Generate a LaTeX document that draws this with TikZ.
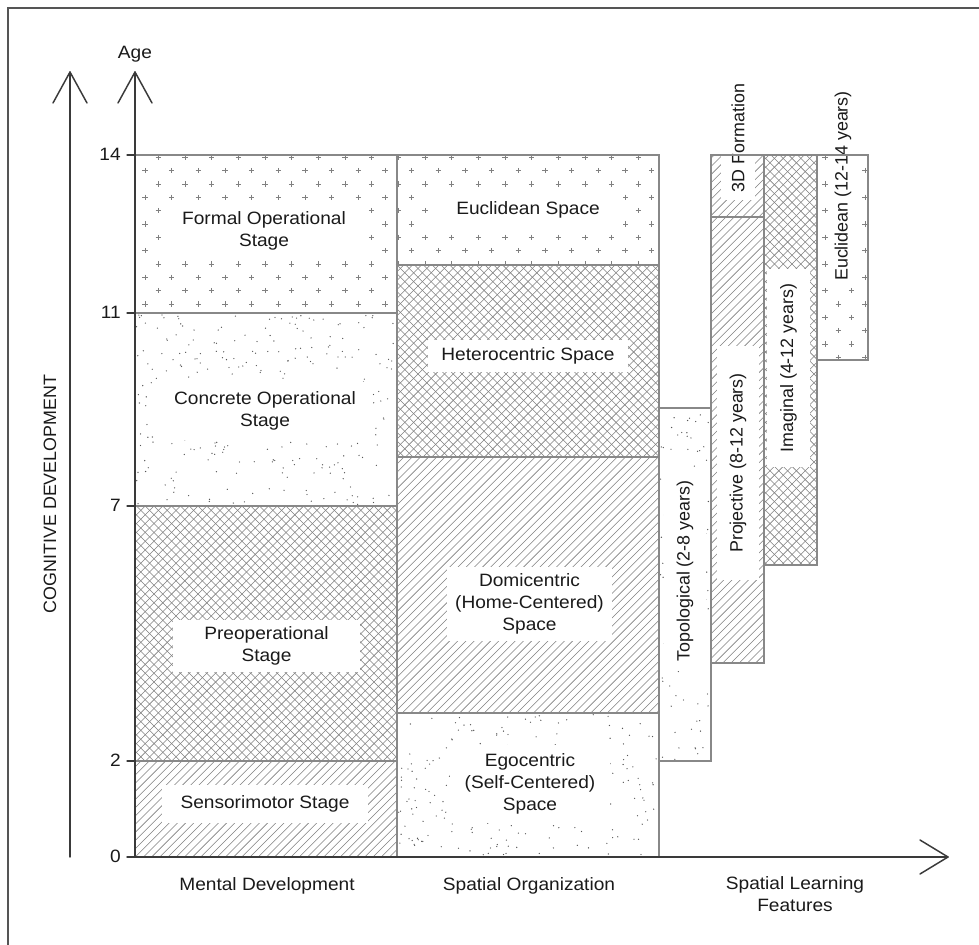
\documentclass[tikz,border=0pt]{standalone}
\usepackage{fontspec}
\setmainfont{Liberation Sans}
\usepackage{graphicx}
\definecolor{patc}{HTML}{808080}
\definecolor{dotc}{HTML}{555555}
\definecolor{edgec}{HTML}{888888}
\definecolor{axisc}{HTML}{3A3A3A}
\definecolor{txtc}{HTML}{1A1A1A}
\definecolor{framec}{HTML}{555555}

\newcommand\hl[1]{\scalebox{1.07}[1]{\begin{tabular}{@{}c@{}}#1\end{tabular}}}

\newcommand\PatNE[5]{%
 \begin{scope}
 \clip (#1,#2) rectangle (#3,#4);
 \pgfmathtruncatemacro\kA{floor((#1+#2)/#5)-1}
 \pgfmathtruncatemacro\kB{ceil((#3+#4)/#5)+1}
 \foreach \k in {\kA,...,\kB}{
   \draw[pat] ({\k*#5-#4},#4) -- ({\k*#5-#2},#2);
 }
 \end{scope}}
\newcommand\PatNW[5]{%
 \begin{scope}
 \clip (#1,#2) rectangle (#3,#4);
 \pgfmathtruncatemacro\kA{floor((#1-#4)/#5)-1}
 \pgfmathtruncatemacro\kB{ceil((#3-#2)/#5)+1}
 \foreach \k in {\kA,...,\kB}{
   \draw[pat] ({\k*#5+#2},#2) -- ({\k*#5+#4},#4);
 }
 \end{scope}}
\newcommand\PatCross[4]{\PatNE{#1}{#2}{#3}{#4}{8.8}\PatNW{#1}{#2}{#3}{#4}{8.8}}
\newcommand\PatPlus[4]{%
 \begin{scope}
 \clip (#1,#2) rectangle (#3,#4);
 \pgfmathtruncatemacro\rA{floor((#2-157.3)/13.333)-1}
 \pgfmathtruncatemacro\rB{ceil((#4-157.3)/13.333)+1}
 \pgfmathtruncatemacro\qA{floor((#1-158.33)/13.333)-2}
 \pgfmathtruncatemacro\qB{ceil((#3-158.33)/13.333)+2}
 \foreach \r in {\rA,...,\rB}{
  \foreach \q in {\qA,...,\qB}{
   \pgfmathtruncatemacro\pp{mod(\r+\q+1000,2)}
   \ifnum\pp=0
     \draw[pat] ({158.33+\q*13.333-2.7},{157.3+\r*13.333}) -- ++(5.4,0)
                ({158.33+\q*13.333},{157.3+\r*13.333-2.7}) -- ++(0,5.4);
   \fi
  }}
 \end{scope}}
\newcommand\PatDots[6]{%
 \begin{scope}
 \pgfmathsetseed{#6}
 \foreach \i in {1,...,#5}{
   \pgfmathsetmacro\rx{#1+1.5+rnd*(#3-#1-3)}
   \pgfmathsetmacro\ry{#2+1.5+rnd*(#4-#2-3)}
   \fill[dotc] (\rx,\ry) circle[radius=0.5pt];
 }
 \end{scope}}

\tikzset{
 pat/.style={patc, line width=0.42pt},
 edge/.style={draw=edgec, line width=0.8pt},
 axisline/.style={draw=axisc, line width=1.1pt, line cap=round, line join=round},
 lab/.style={fill=white, inner sep=0pt, text=txtc, align=center, font=\fontsize{13.4}{16.5}\selectfont},
 txt/.style={inner sep=0pt, text=txtc, align=center, font=\fontsize{13.4}{16.5}\selectfont},
}

\begin{document}
\begin{tikzpicture}[x=0.75pt,y=-0.75pt]
\useasboundingbox (0,0) rectangle (979,945);
\fill[white] (0,0) rectangle (979,945);

% ---------- patterns ----------
% Mental development
\PatPlus{135}{155}{397}{313}
\PatDots{135}{313}{397}{506}{300}{11}
\PatCross{135}{506}{397}{761}
\PatNE{135}{761}{397}{857}{8.2}
% Spatial organization
\PatPlus{397}{155}{659}{265}
\PatCross{397}{265}{659}{457}
\PatNE{397}{457}{659}{713}{8.2}
\PatDots{397}{713}{659}{857}{225}{23}
% Spatial learning features
\PatDots{659}{408}{711}{761}{110}{37}
\PatNE{711}{155}{764}{217}{8.2}
\PatNE{711}{217}{764}{663}{8.2}
\PatCross{764}{155}{817}{565}
\PatPlus{817}{155}{868}{360}

% ---------- labels (white boxes) ----------
\node[lab, minimum width=151.5pt, minimum height=40.5pt] (formal) at (264,231) {\hl{Formal Operational\\Stage}};
\node[lab, minimum width=161pt, minimum height=43.5pt] (concrete) at (265,411) {\hl{Concrete Operational\\Stage}};
\node[lab, minimum width=140pt, minimum height=39pt] (preop) at (266.5,646) {\hl{Preoperational\\Stage}};
\node[lab, minimum width=154pt, minimum height=28.5pt] (senso) at (265,804) {\hl{Sensorimotor Stage}};
\node[lab, minimum width=142.5pt, minimum height=27pt] (euclsp) at (528,210) {\hl{Euclidean Space}};
\node[lab, minimum width=150pt, minimum height=24pt] (hetero) at (528,356) {\hl{Heterocentric Space}};
\node[lab, minimum width=124pt, minimum height=56pt] (domi) at (529.5,604) {\hl{Domicentric\\(Home-Centered)\\Space}};
\node[lab, minimum width=120pt, minimum height=58.5pt] (ego) at (530,784) {\hl{Egocentric\\(Self-Centered)\\Space}};
\node[lab, rotate=90, minimum width=150pt, minimum height=31.5pt] (topo) at (685,571) {Topological (2-8 years)};
\node[lab, rotate=90, minimum width=175pt, minimum height=32pt] (proj) at (738,463) {Projective (8-12 years)};
\node[lab, rotate=90, minimum width=93pt, minimum height=25pt] (threed) at (738,138) {3D Formation};
\node[lab, rotate=90, minimum width=148pt, minimum height=32pt] (imag) at (788.5,368) {Imaginal (4-12 years)};
\node[lab, rotate=90, minimum width=149pt, minimum height=22.5pt] (eucl) at (843,186) {Euclidean (12-14 years)};

% ---------- region outlines ----------
\draw[edge] (135,155) rectangle (397,313);
\draw[edge] (135,313) rectangle (397,506);
\draw[edge] (135,506) rectangle (397,761);
\draw[edge] (135,761) rectangle (397,857);
\draw[edge] (397,155) rectangle (659,265);
\draw[edge] (397,265) rectangle (659,457);
\draw[edge] (397,457) rectangle (659,713);
\draw[edge] (397,713) rectangle (659,857);
\draw[edge] (659,408) rectangle (711,761);
\draw[edge] (711,155) rectangle (764,217);
\draw[edge] (711,217) rectangle (764,663);
\draw[edge] (764,155) rectangle (817,565);
\draw[edge] (817,155) rectangle (868,360);

% ---------- frame ----------
\draw[framec, line width=0.9pt] (8,945) -- (8,8) -- (979,8);

% ---------- axes ----------
\coordinate (cogB) at (70,857);
\coordinate (cogT) at (70,72);
\coordinate (ageB) at (135,857);
\coordinate (ageT) at (135,72);
\coordinate (xL) at (127,857);
\coordinate (xR) at (948,857);
\draw[axisline] (cogB) -- (cogT);
\draw[axisline] (53,103) -- (cogT) -- (87,103);
\draw[axisline] (ageB) -- (ageT);
\draw[axisline] (118,103) -- (ageT) -- (152,103);
\draw[axisline] (xL) -- (xR);
\draw[axisline] (920,840) -- (xR) -- (920,874);
\foreach \yy in {155,313,506,761}{ \draw[axisline, line width=0.8pt] (127,\yy) -- (135,\yy); }

% ---------- axis texts ----------
\node[txt] (age) at (135,54) {\hl{Age}};
\node[txt, anchor=east] (t14) at (121,156) {\hl{14}};
\node[txt, anchor=east] (t11) at (121,314) {\hl{11}};
\node[txt, anchor=east] (t7) at (121,507) {\hl{7}};
\node[txt, anchor=east] (t2) at (121,762) {\hl{2}};
\node[txt, anchor=east] (t0) at (121,858) {\hl{0}};
\node[txt, rotate=90] (cog) at (50,494) {COGNITIVE DEVELOPMENT};
\node[txt] (mental) at (267,886) {\hl{Mental Development}};
\node[txt] (spatorg) at (529,886) {\hl{Spatial Organization}};
\node[txt] (spatlearn) at (795,896) {\hl{Spatial Learning\\Features}};
\end{tikzpicture}
\end{document}
